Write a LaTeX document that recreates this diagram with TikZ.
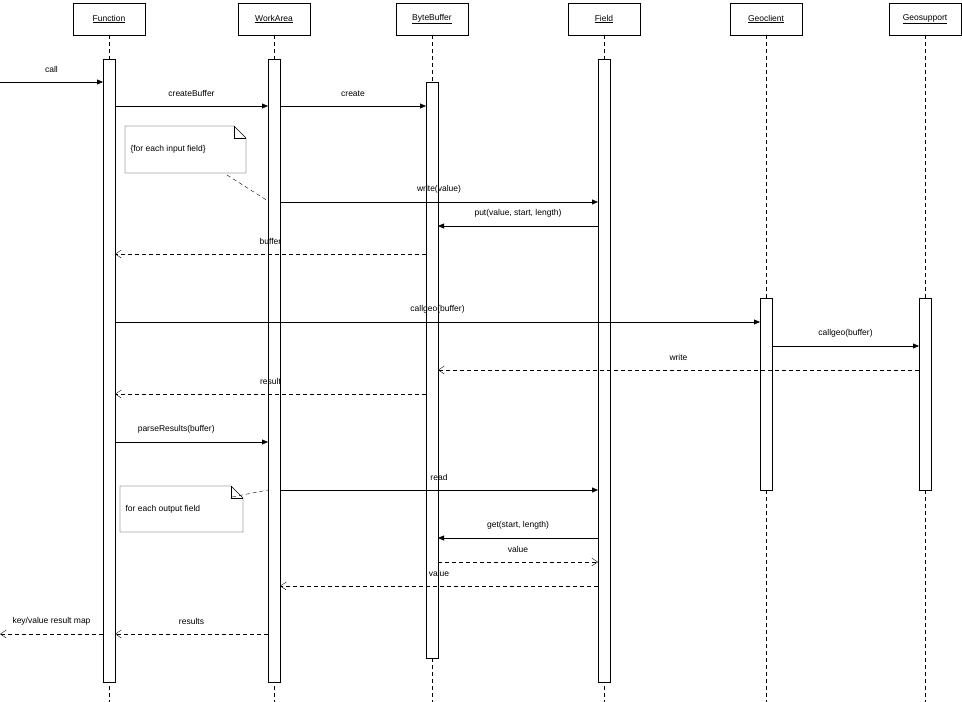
\documentclass[tikz,border=0pt]{standalone}
\usepackage{fontspec}
\setmainfont{Liberation Sans}
\usepackage{tikz}
\usetikzlibrary{arrows.meta, positioning, shapes.misc, calc}
\tikzset{
  header/.style={rectangle, draw=black, minimum width=72pt, minimum height=32pt, inner sep=0pt, fill=white},
  lifeline/.style={dashed, dash pattern=on 4pt off 3pt},
  bar/.style={rectangle, draw=black, fill=white, minimum width=12pt, inner sep=0pt},
  sync/.style={-{Triangle[length=6pt,width=5pt]}},
  reply/.style={dashed, dash pattern=on 4pt off 3pt, -{Straight Barb[length=6pt,width=8pt]}},
  lbl/.style={above, inner sep=0pt, yshift=9pt},
  note/.style={draw=black, fill=white, align=left, anchor=north west, inner sep=0pt}
}
\newcommand{\notebox}[5]{% x1,y1,x2,y2,text
  \draw (#1,#2) -- (#3-12,#2) -- (#3,#2+12) -- (#3,#4) -- (#1,#4) -- cycle;
  \draw (#3-12,#2) -- (#3-12,#2+12) -- (#3,#2+12);
  \node[anchor=west] at (#1+2,{(#2+#4)/2}) {#5};
}
\begin{document}
\begin{tikzpicture}[x=1pt,y=-1pt,font=\fontsize{8.5}{10}\selectfont]
  \useasboundingbox (0,0) rectangle (962,702);
  % Lifeline heads
  \foreach \name/\x in {Function/109, WorkArea/274, ByteBuffer/432, Field/604, Geoclient/766, Geosupport/925}{
    \draw[lifeline] (\x,35) -- (\x,702);
    \node[header] (\name) at (\x,19) {\underline{\name}};
  }
  % Activation bars
  \node[bar, minimum height=623pt] (fnbar) at (109,370.5) {};
  \node[bar, minimum height=623pt] (wabar) at (274,370.5) {};
  \node[bar, minimum height=576pt] (bbbar) at (432,370) {};
  \node[bar, minimum height=623pt] (fdbar) at (604,370.5) {};
  \node[bar, minimum height=192pt] (gcbar) at (766,394) {};
  \node[bar, minimum height=192pt] (gsbar) at (925,394) {};
  % Notes
  \notebox{125}{126}{246}{173}{\{for each input field\}}
  \notebox{120}{486}{243}{532}{for each output field}
  \draw[lifeline] (227,175) -- (268,201);
  \draw[lifeline] (232,497) -- (268,490);
  % Messages
  \draw[sync] (0,82) -- node[lbl] {call} (103,82);
  \draw[sync] (115,106) -- node[lbl] {createBuffer} (268,106);
  \draw[sync] (280,106) -- node[lbl] {create} (426,106);
  \draw[sync] (280,202) -- node[lbl, pos=0.5] {write(value)} (598,202);
  \draw[sync] (598,226) -- node[lbl, pos=0.5] {put(value, start, length)} (438,226);
  \draw[reply] (426,254) -- node[lbl, pos=0.5] {buffer} (115,254);
  \draw[sync] (115,322) -- node[lbl, pos=0.5] {callgeo(buffer)} (760,322);
  \draw[sync] (772,346) -- node[lbl] {callgeo(buffer)} (919,346);
  \draw[reply] (919,370) -- node[lbl] {write} (438,370);
  \draw[reply] (426,394) -- node[lbl] {result} (115,394);
  \draw[sync] (115,442) -- node[lbl, pos=0.4] {parseResults(buffer)} (268,442);
  \draw[sync] (280,490) -- node[lbl] {read} (598,490);
  \draw[sync] (598,538) -- node[lbl] {get(start, length)} (438,538);
  \draw[reply] (438,562) -- node[lbl] {value} (598,562);
  \draw[reply] (598,586) -- node[lbl] {value} (280,586);
  \draw[reply] (268,634) -- node[lbl] {results} (115,634);
  \draw[reply] (103,634) -- node[lbl] {key/value result map} (0,634);
\end{tikzpicture}
\end{document}
